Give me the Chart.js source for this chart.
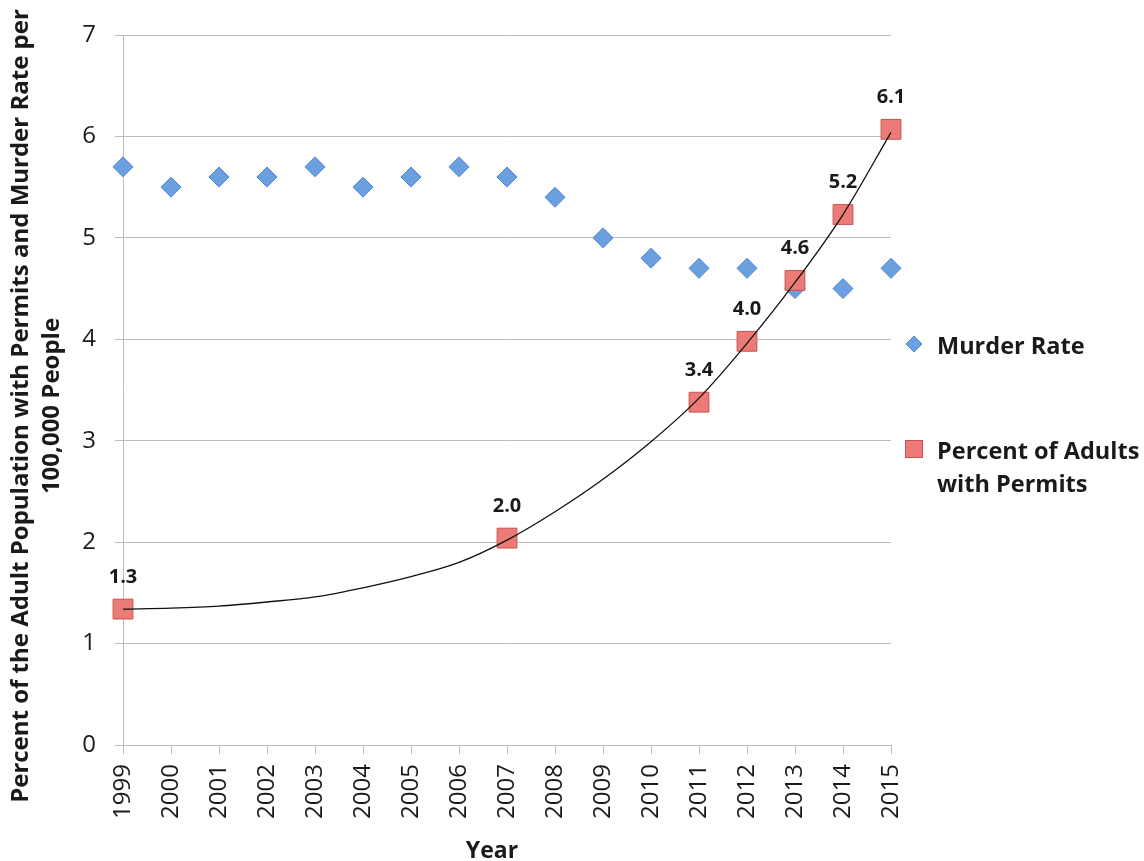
<!DOCTYPE html>
<html>
<head>
<meta charset="utf-8">
<script src="https://cdn.jsdelivr.net/npm/chart.js@4/dist/chart.umd.min.js"></script>
<style>
  html, body { margin: 0; padding: 0; background: #fff; }
  #wrap { width: 1144px; height: 861px; position: relative; }
</style>
</head>
<body>
<div id="wrap"><canvas id="chart"></canvas></div>
<script>
// Dados
const anos = ['1999', '2000', '2001', '2002', '2003', '2004', '2005', '2006', '2007',
    '2008', '2009', '2010', '2011', '2012', '2013', '2014', '2015'];
const taxaHomicidios = [5.7, 5.5, 5.6, 5.6, 5.7, 5.5, 5.6, 5.7, 5.6, 5.4, 5.0, 4.8, 4.7, 4.7, 4.5, 4.5, 4.7];
const percentualPortes = [1.34, null, null, null, null, null, null, null, 2.04,
    null, null, null, 3.38, 3.98, 4.58, 5.23, 6.07];
const tendencia = [1.34, 1.35, 1.37, 1.41, 1.46, 1.55, 1.66, 1.80, 2.02,
    2.30, 2.62, 2.99, 3.42, 3.96, 4.56, 5.23, 6.04];
const ticksY = [0, 1, 2, 3, 4, 5, 6, 7];

const nomesLegenda = ['Murder Rate', ['Percent of Adults', 'with Permits']];
const tituloY = ['Percent of the Adult Population with Permits and Murder Rate per', '100,000 People'];
const tituloX = 'Year';
const FONTE = '"Open Sans", Lato, sans-serif';

const azul = '#6b9fe0';
const azulBorda = '#4f86c9';
const vermelho = '#ec7b77';
const vermelhoBorda = '#c9524e';
const corTexto = '#1a1a1a';

/**
 * Rótulos de valor, títulos dos eixos e legenda à direita
 */
const extrasPlugin = {
    id: 'extras',
    afterDatasetsDraw(chart) {
        const ctx = chart.ctx;
        const meta = chart.getDatasetMeta(1);
        ctx.save();
        ctx.font = 'bold 20px ' + FONTE;
        ctx.fillStyle = corTexto;
        ctx.textAlign = 'center';
        ctx.textBaseline = 'middle';
        meta.data.forEach((pt, i) => {
            const v = percentualPortes[i];
            if (v === null) return;
            ctx.fillText(v.toFixed(1), pt.x, pt.y - 32);
        });
        ctx.restore();
    },
    afterDraw(chart) {
        const ctx = chart.ctx;
        const area = chart.chartArea;
        ctx.save();

        // Títulos dos eixos
        ctx.fillStyle = corTexto;
        ctx.font = 'bold 24px ' + FONTE;
        ctx.textAlign = 'center';
        ctx.textBaseline = 'middle';
        ctx.save();
        ctx.translate(21, 406);
        ctx.rotate(-Math.PI / 2);
        ctx.fillText(tituloY[0], 0, 0);
        ctx.fillText(tituloY[1], 0, 31);
        ctx.restore();
        ctx.font = 'bold 23px ' + FONTE;
        ctx.fillText(tituloX, 492, 851);

        // Legenda
        const xm = area.right + 23;
        const xt = area.right + 46;
        ctx.fillStyle = azul;
        ctx.strokeStyle = azulBorda;
        ctx.lineWidth = 1;
        ctx.beginPath();
        ctx.moveTo(xm, 336);
        ctx.lineTo(xm + 8, 344);
        ctx.lineTo(xm, 352);
        ctx.lineTo(xm - 8, 344);
        ctx.closePath();
        ctx.fill();
        ctx.stroke();

        ctx.fillStyle = vermelho;
        ctx.strokeStyle = vermelhoBorda;
        ctx.fillRect(xm - 8.5, 440.5, 17, 17);
        ctx.strokeRect(xm - 8.5, 440.5, 17, 17);

        ctx.font = 'bold 23.5px ' + FONTE;
        ctx.fillStyle = corTexto;
        ctx.textAlign = 'left';
        ctx.fillText(nomesLegenda[0], xt, 347);
        ctx.fillText(nomesLegenda[1][0], xt, 452);
        ctx.fillText(nomesLegenda[1][1], xt, 485);
        ctx.restore();
    }
};

const ctx = document.getElementById('chart');
new Chart(ctx, {
    type: 'line',
    data: {
        labels: anos,
        datasets: [{
            label: 'Murder Rate',
            data: taxaHomicidios,
            showLine: false,
            pointStyle: 'rectRot',
            pointRadius: 10,
            pointHoverRadius: 10,
            backgroundColor: azul,
            borderColor: azulBorda,
            pointBorderWidth: 1,
            order: 3
        }, {
            label: 'Percent of Adults with Permits',
            data: percentualPortes,
            showLine: false,
            pointStyle: 'rect',
            pointRadius: 14,
            pointHoverRadius: 14,
            backgroundColor: vermelho,
            borderColor: vermelhoBorda,
            pointBorderWidth: 1,
            order: 2
        }, {
            label: 'Tendência',
            data: tendencia,
            borderColor: '#111',
            borderWidth: 1.3,
            pointRadius: 0,
            cubicInterpolationMode: 'monotone',
            fill: false,
            order: 1
        }]
    },
    options: {
        responsive: true,
        maintainAspectRatio: false,
        animation: false,
        layout: {
            padding: { top: 35, right: 253, bottom: 0, left: 0 }
        },
        plugins: {
            legend: { display: false },
            tooltip: { enabled: false }
        },
        scales: {
            x: {
                type: 'category',
                offset: false,
                grid: {
                    drawOnChartArea: false,
                    drawTicks: true,
                    tickLength: 9,
                    color: '#bcbcbc'
                },
                border: { display: false },
                ticks: {
                    autoSkip: false,
                    minRotation: 90,
                    maxRotation: 90,
                    padding: 10,
                    color: corTexto,
                    font: { family: FONTE, size: 24 }
                },
                afterFit(scale) { scale.height = 116; }
            },
            y: {
                min: 0,
                max: 7,
                afterBuildTicks(scale) {
                    scale.ticks = ticksY.map(v => ({ value: v }));
                },
                grid: {
                    color: '#bcbcbc',
                    lineWidth: 1,
                    tickLength: 8
                },
                border: { display: true, color: '#bcbcbc' },
                ticks: {
                    padding: 19,
                    color: corTexto,
                    font: { family: FONTE, size: 24 }
                },
                afterFit(scale) { scale.width = 123; }
            }
        }
    },
    plugins: [extrasPlugin]
});
</script>
</body>
</html>
